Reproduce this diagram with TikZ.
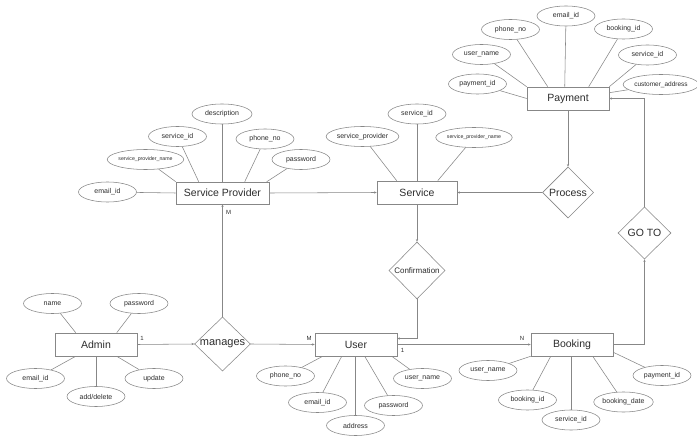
\documentclass[tikz,border=0pt]{standalone}
\usepackage{fontspec}
\setmainfont{Liberation Sans}
\usetikzlibrary{shapes.geometric,arrows.meta,calc}
\definecolor{ln}{RGB}{135,135,135}
\definecolor{tx}{RGB}{45,45,45}
\tikzset{
  ent/.style={draw=ln, line width=0.55pt, rectangle, minimum width=82pt, minimum height=23pt, inner sep=0pt, text=tx, font=\fontsize{10.5}{12}\selectfont},
  attr/.style={draw=ln, line width=0.55pt, ellipse, minimum width=58pt, minimum height=20pt, inner sep=0pt, text=tx, font=\fontsize{7}{8}\selectfont},
  rel/.style={draw=ln, line width=0.55pt, diamond, inner sep=0pt, text=tx, font=\fontsize{10.5}{12}\selectfont},
  conn/.style={draw=ln, line width=0.55pt},
  arr/.style={draw=ln, line width=0.55pt, -{Stealth[length=2.6pt,width=2.2pt]}},
  card/.style={text=tx, font=\fontsize{6}{7}\selectfont, inner sep=0pt}
}
\begin{document}
\begin{tikzpicture}[x=1pt,y=-1pt]
\useasboundingbox[fill=white] (0,0) rectangle (697,441);
% Entities
\node[ent] (pay) at (568,98.5) {Payment};
\node[ent, minimum width=93pt, minimum height=22pt] (sp) at (222.5,193) {Service Provider};
\node[ent, minimum width=80pt] (serv) at (417,192.5) {Service};
\node[ent] (admin) at (96,344.5) {Admin};
\node[ent] (user) at (356,344.5) {User};
\node[ent] (book) at (572,344.5) {Booking};
% Relationships
\node[rel, minimum width=51pt, minimum height=51pt] (proc) at (568,192.5) {Process};
\node[rel, minimum width=56pt, minimum height=57pt, font=\fontsize{8}{9}\selectfont] (conf) at (417,270.5) {Confirmation};
\node[rel, minimum width=53pt, minimum height=52pt] (goto) at (644.5,233) {GO TO};
\node[rel, minimum width=56pt, minimum height=54pt, font=\fontsize{11}{12}\selectfont] (man) at (222.5,344) {manages};
% Payment attributes
\node[attr] (pemail) at (566,16) {email\_id};
\node[attr] (pphone) at (510.5,29.5) {phone\_no};
\node[attr] (pbook) at (623.5,29) {booking\_id};
\node[attr] (puser) at (481.5,54.5) {user\_name};
\node[attr] (pserv) at (647.5,55) {service\_id};
\node[attr] (ppay) at (477.5,84) {payment\_id};
\node[attr, minimum width=56pt, font=\fontsize{6.5}{7}\selectfont] (pcust) at (661,84.5) {customer\_address};
% Service Provider attributes
\node[attr] (spemail) at (107.5,192) {email\_id};
\node[attr, font=\fontsize{5.2}{6}\selectfont] (spname) at (145.5,159.5) {service\_provider\_name};
\node[attr] (spserv) at (177.5,136.5) {service\_id};
\node[attr, minimum width=60pt] (spdesc) at (222,114) {description};
\node[attr] (spphone) at (265,139) {phone\_no};
\node[attr] (sppass) at (301,159.5) {password};
% Service attributes
\node[attr] (sprov) at (362.5,136.5) {service\_provider};
\node[attr] (sid) at (417,114) {service\_id};
\node[attr, font=\fontsize{5.2}{6}\selectfont] (sspn) at (474,137.5) {service\_provider\_name};
% Admin attributes
\node[attr] (aname) at (52.5,303.5) {name};
\node[attr] (apass) at (139,303.5) {password};
\node[attr] (aemail) at (35.5,378.5) {email\_id};
\node[attr] (aadd) at (96,396.5) {add/delete};
\node[attr] (aupd) at (154,378.5) {update};
% User attributes
\node[attr] (uphone) at (285.5,376) {phone\_no};
\node[attr] (uemail) at (317.5,402.5) {email\_id};
\node[attr] (uaddr) at (355.5,425.5) {address};
\node[attr] (upass) at (393.5,405.5) {password};
\node[attr] (uname) at (422.5,378.5) {user\_name};
% Booking attributes
\node[attr] (bname) at (488,370.5) {user\_name};
\node[attr] (bid) at (527.5,400) {booking\_id};
\node[attr] (bserv) at (571,420) {service\_id};
\node[attr] (bdate) at (623.5,402) {booking\_date};
\node[attr] (bpay) at (662,375.5) {payment\_id};
% Attribute lines
\draw[conn] (pemail) -- ($(pay.north west)+(38,0)$);
\draw[conn] (pphone) -- ($(pay.north west)+(21,0)$);
\draw[conn] (puser) -- (pay.north west);
\draw[conn] (ppay) -- (pay.west);
\draw[conn] (pbook) -- ($(pay.north west)+(62,0)$);
\draw[conn] (pserv) -- (pay.north east);
\draw[conn] (pcust) -- ($(pay.north east)+(0,6)$);
\draw[conn] (spemail) -- (sp.west);
\draw[conn] (spname) -- (sp.north west);
\draw[conn] (spserv) -- ($(sp.north west)+(23,0)$);
\draw[conn] (spdesc) -- (spdesc |- sp.north);
\draw[conn] (spphone) -- ($(sp.north west)+(69,0)$);
\draw[conn] (sppass) -- ($(sp.north west)+(91,0)$);
\draw[conn] (sprov) -- ($(serv.north west)+(20,0)$);
\draw[conn] (sid) -- (serv.north);
\draw[conn] (sspn) -- ($(serv.north west)+(61,0)$);
\draw[conn] (aname) -- ($(admin.north west)+(21,0)$);
\draw[conn] (apass) -- ($(admin.north west)+(62,0)$);
\draw[conn] (aemail) -- ($(admin.south west)+(21,0)$);
\draw[conn] (aadd) -- (admin.south);
\draw[conn] (aupd) -- ($(admin.south west)+(62,0)$);
\draw[conn] (uphone) -- ($(user.south west)+(8,0)$);
\draw[conn] (uemail) -- ($(user.south west)+(27,0)$);
\draw[conn] (uaddr) -- (uaddr |- user.south);
\draw[conn] (upass) -- ($(user.south west)+(50,0)$);
\draw[conn] (uname) -- ($(user.south west)+(77,0)$);
\draw[conn] (bname) -- (book.south west);
\draw[conn] (bid) -- ($(book.south west)+(20,0)$);
\draw[conn] (bserv) -- (bserv |- book.south);
\draw[conn] (bdate) -- ($(book.south west)+(62,0)$);
\draw[conn] (bpay) -- ($(book.south east)+(0,-4)$);
% Relationship connectors
\draw[arr] (sp.east) -- (serv.west);
\draw[arr] (pay.south) -- (proc.north);
\draw[arr] (proc.west) -- (serv.east);
\draw[arr] (serv.south) -- (conf.north);
\draw[arr] (conf.south) |- ([yshift=6pt]user.east);
\draw[arr] (user.east) -- (book.west);
\draw[arr] (book.east) -| (goto.south);
\draw[arr] (goto.north) |- (pay.east);
\draw[arr] (admin.east) -- (man.west);
\draw[arr] (man.north) -- (sp.south);
\draw[arr] (man.east) -- (user.west);
% Cardinalities
\node[card] (c1) at (228.5,212) {M};
\node[card] (c2) at (142,338) {1};
\node[card] (c3) at (309,338) {M};
\node[card] (c4) at (402.5,350) {1};
\node[card] (c5) at (522,338) {N};
\end{tikzpicture}
\end{document}
